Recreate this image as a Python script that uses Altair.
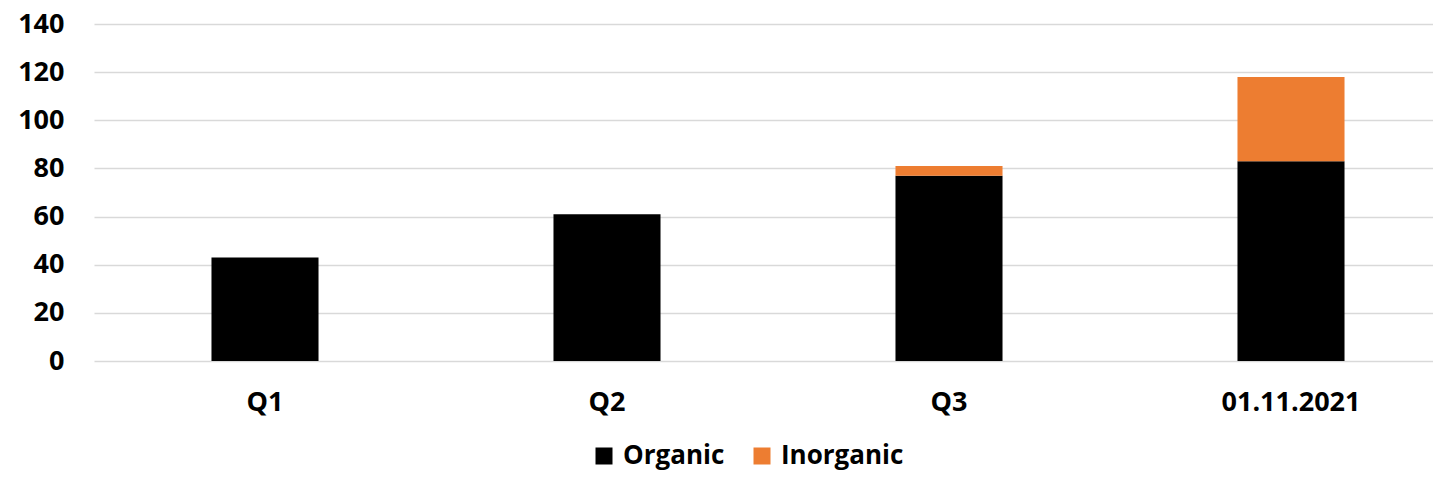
import altair as alt
import pandas as pd

categories = ["Q1", "Q2", "Q3", "01.11.2021"]
organic = [43, 61, 77, 83]
inorganic = [0, 0, 4, 35]
series = ["Organic", "Inorganic"]
colors = ["#000000", "#ED7D31"]
y_ticks = [0, 20, 40, 60, 80, 100, 120, 140]

rows = []
for i, c in enumerate(categories):
    rows.append({"cat": c, "series": "Organic", "value": organic[i], "ord": 0})
    rows.append({"cat": c, "series": "Inorganic", "value": inorganic[i], "ord": 1})
df = pd.DataFrame(rows)

FONT = "Open Sans"

chart = alt.Chart(df).mark_bar().encode(
    x=alt.X("cat:N", sort=categories,
            scale=alt.Scale(paddingInner=0.687, paddingOuter=0.3435, range=[0, 1368]),
            axis=alt.Axis(title=None, labelAngle=0, domain=False, ticks=False,
                          labelPadding=28, labelFont=FONT, labelFontSize=27,
                          labelFontWeight="bold", labelColor="#000000", grid=False)),
    y=alt.Y("value:Q", stack="zero",
            scale=alt.Scale(domain=[0, 140], nice=False),
            axis=alt.Axis(title=None, values=y_ticks, domain=False, ticks=False,
                          labelPadding=30, labelFont=FONT, labelFontSize=27,
                          labelFontWeight="bold", labelColor="#000000",
                          gridColor="#D9D9D9", gridWidth=1.5)),
    color=alt.Color("series:N", sort=series,
                    scale=alt.Scale(domain=series, range=colors),
                    legend=alt.Legend(title=None, orient="none", direction="horizontal",
                                      legendX=497, legendY=419,
                                      symbolType="square", symbolSize=289,
                                      symbolStrokeWidth=0,
                                      labelFont=FONT, labelFontSize=26,
                                      labelFontWeight="bold", labelColor="#000000",
                                      columnPadding=24, labelOffset=6)),
    order=alt.Order("ord:Q"),
).properties(
    width=1339, height=337,
    autosize=alt.AutoSizeParams(type="none"),
    padding={"left": 86, "top": 16, "right": 0, "bottom": 112},
).configure_view(stroke=None)

chart.save("out.html", embed_options={"renderer": "svg", "actions": False})
